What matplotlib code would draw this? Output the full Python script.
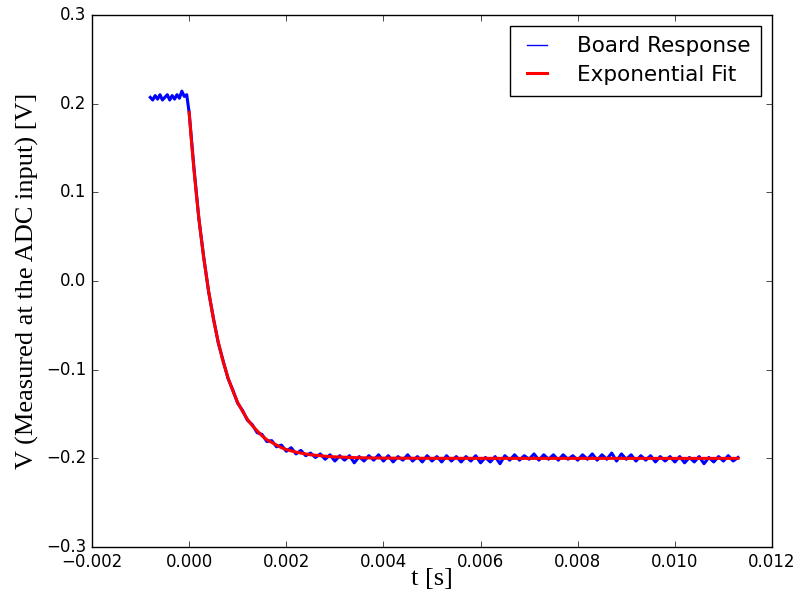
import numpy as np
import matplotlib
matplotlib.use("Agg")
import matplotlib.pyplot as plt

# ADC samples: short baseline before the step, then the discharge
pre_t0, pre_dt = -0.0008, 0.00005
pre_v = [0.207, 0.204, 0.209, 0.205, 0.210, 0.204, 0.207, 0.210,
         0.204, 0.209, 0.205, 0.210, 0.206, 0.214, 0.208, 0.210]

main_t0, main_dt = 0.0, 0.0001
main_v = [0.190, 0.127, 0.070, 0.027, -0.012, -0.042, -0.070, -0.090, -0.110, -0.123,
          -0.138, -0.146, -0.157, -0.162, -0.171, -0.173, -0.181, -0.180, -0.187, -0.185,
          -0.192, -0.188, -0.195, -0.191, -0.197, -0.194, -0.199, -0.195, -0.201, -0.196,
          -0.203, -0.197, -0.202, -0.197, -0.205, -0.198, -0.203, -0.197, -0.202, -0.196,
          -0.203, -0.197, -0.204, -0.198, -0.202, -0.196, -0.203, -0.198, -0.204, -0.197,
          -0.203, -0.198, -0.204, -0.197, -0.203, -0.198, -0.204, -0.198, -0.203, -0.197,
          -0.205, -0.199, -0.204, -0.198, -0.206, -0.197, -0.202, -0.196, -0.202, -0.197,
          -0.201, -0.195, -0.202, -0.196, -0.201, -0.196, -0.202, -0.196, -0.201, -0.197,
          -0.202, -0.196, -0.201, -0.195, -0.202, -0.196, -0.201, -0.194, -0.203, -0.195,
          -0.201, -0.196, -0.203, -0.197, -0.202, -0.197, -0.204, -0.198, -0.203, -0.198,
          -0.204, -0.198, -0.205, -0.199, -0.204, -0.198, -0.206, -0.199, -0.204, -0.198,
          -0.203, -0.197, -0.203, -0.199]

# fitted exponential, sampled
fit_t = [0.0, 0.00005, 0.0001, 0.00015, 0.0002, 0.00025, 0.0003, 0.0004, 0.0005,
         0.0006, 0.0007, 0.0008, 0.0009, 0.0010, 0.0011, 0.0012, 0.0013, 0.0014,
         0.0015, 0.0016, 0.0017, 0.0018, 0.0019, 0.0020, 0.0021, 0.0022, 0.0023,
         0.0024, 0.0025, 0.0026, 0.0027, 0.0028, 0.0029, 0.0030, 0.0035, 0.0040,
         0.0050, 0.0070, 0.0113]
fit_v = [0.190, 0.156, 0.125, 0.097, 0.071, 0.048, 0.026, -0.011, -0.043,
         -0.069, -0.091, -0.109, -0.124, -0.137, -0.147, -0.156, -0.163, -0.169,
         -0.1745, -0.179, -0.182, -0.185, -0.188, -0.190, -0.1915, -0.193, -0.194,
         -0.195, -0.196, -0.1965, -0.197, -0.1976, -0.198, -0.1983, -0.1993, -0.1997,
         -0.1999, -0.2000, -0.2000]

xticks = [-0.002, 0.0, 0.002, 0.004, 0.006, 0.008, 0.010, 0.012]
yticks = [-0.3, -0.2, -0.1, 0.0, 0.1, 0.2, 0.3]

board_t = np.concatenate([pre_t0 + pre_dt * np.arange(len(pre_v)),
                          main_t0 + main_dt * np.arange(len(main_v))])
board_v = np.array(pre_v + main_v)

plt.style.use("classic")
plt.rcParams["figure.facecolor"] = "white"
plt.rcParams["savefig.facecolor"] = "white"

fig = plt.figure(figsize=(8, 5.94), dpi=100)
ax = fig.add_axes([0.115, 0.079, 0.85, 0.896])

ax.plot(board_t, board_v, color="blue", lw=2.2, label="Board Response")
ax.plot(fit_t, fit_v, color="red", lw=2.2, label="Exponential Fit")

ax.set_xlim(-0.002, 0.012)
ax.set_ylim(-0.3, 0.3)
ax.set_xticks(xticks)
ax.set_xticklabels([("%.3f" % v).replace("-", "\u2212") for v in xticks])
ax.set_yticks(yticks)
ax.set_yticklabels([("%.1f" % v).replace("-", "\u2212") for v in yticks])

ax.set_xlabel("t [s]", family="Liberation Serif", fontsize=19, labelpad=-2)
ax.set_ylabel("V (Measured at the ADC input) [V]", family="Liberation Serif",
              fontsize=19, labelpad=5)

leg = ax.legend(loc="upper right", fontsize=15.5, handlelength=1.5,
                handletextpad=1.1, labelspacing=0.4, borderpad=0.5)
leg.get_lines()[0].set_linewidth(1.0)

fig.savefig("out.png", dpi=100)
